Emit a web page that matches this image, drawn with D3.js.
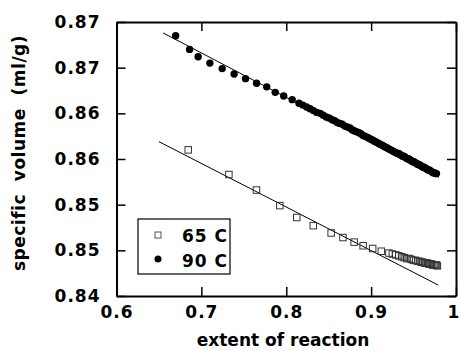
<!DOCTYPE html>
<html>
<head>
<meta charset="utf-8">
<script src="https://cdn.jsdelivr.net/npm/d3@7"></script>
<style>
  body { margin: 0; background: #fff; }
  .axis text { font-family: "DejaVu Sans", sans-serif; font-weight: bold; font-size: 17px; fill: #000; }
  .axis path, .axis line { stroke: #000; }
</style>
</head>
<body>
<div id="chart"></div>
<script>
// tick values and labels
var xTicks = [0.6, 0.7, 0.8, 0.9, 1.0];
var xTickLabels = ["0.6", "0.7", "0.8", "0.9", "1"];
var yTicks = [0.84, 0.845, 0.85, 0.855, 0.86, 0.865, 0.87];
var yTickLabels = ["0.84", "0.85", "0.85", "0.86", "0.86", "0.87", "0.87"];

// 65 C (open squares)
var extent65 = [0.6845, 0.7324, 0.7649, 0.7924, 0.8124, 0.8318, 0.8529, 0.8668, 0.880, 0.8906,
                0.9018, 0.912, 0.921, 0.925, 0.929, 0.9325, 0.936, 0.939, 0.942, 0.945,
                0.9475, 0.950, 0.9525, 0.955, 0.957, 0.959, 0.961, 0.963, 0.965, 0.9665,
                0.968, 0.9695, 0.971, 0.9725, 0.974, 0.9755, 0.977, 0.978];
var volume65 = [0.8560, 0.8533, 0.8516, 0.8499, 0.8486, 0.8477, 0.8469, 0.8464, 0.8459, 0.8455,
                0.8452, 0.8449, 0.8447, 0.8446, 0.8445, 0.8444, 0.8443, 0.8442, 0.8441, 0.8441,
                0.8440, 0.8439, 0.8439, 0.8438, 0.8438, 0.8437, 0.8437, 0.8436, 0.8436, 0.8436,
                0.8435, 0.8435, 0.8435, 0.8434, 0.8434, 0.8434, 0.8434, 0.8433];

// 90 C (filled circles)
var extent90 = [0.6697, 0.6861, 0.6962, 0.710, 0.7245, 0.7386, 0.752, 0.765, 0.777, 0.787,
                0.797, 0.807, 0.815, 0.8195, 0.824, 0.828, 0.832, 0.836, 0.840, 0.8435,
                0.847, 0.8505, 0.854, 0.857, 0.860, 0.863, 0.866, 0.869, 0.872, 0.875,
                0.8775, 0.880, 0.8825, 0.885, 0.8875, 0.890, 0.8925, 0.895, 0.897, 0.899,
                0.901, 0.903, 0.905, 0.907, 0.909, 0.911, 0.913, 0.915, 0.917, 0.919,
                0.921, 0.923, 0.925, 0.927, 0.929, 0.931, 0.9325, 0.934, 0.9355, 0.937,
                0.9385, 0.940, 0.9415, 0.943, 0.9445, 0.946, 0.9475, 0.949, 0.9505, 0.952,
                0.9535, 0.955, 0.9565, 0.958, 0.9595, 0.961, 0.9625, 0.964, 0.9655, 0.967,
                0.9685, 0.970, 0.9715, 0.973, 0.9745, 0.976, 0.977];
var volume90 = [0.8685, 0.8670, 0.8662, 0.8655, 0.8649, 0.8643, 0.8638, 0.8633, 0.8629, 0.8623,
                0.8619, 0.8615, 0.8611, 0.8609, 0.8607, 0.8605, 0.8603, 0.8601, 0.8600, 0.8598,
                0.8596, 0.8595, 0.8593, 0.8592, 0.8590, 0.8589, 0.8588, 0.8586, 0.8585, 0.8584,
                0.8582, 0.8581, 0.8580, 0.8579, 0.8578, 0.8576, 0.8575, 0.8574, 0.8573, 0.8572,
                0.8571, 0.8570, 0.8569, 0.8568, 0.8567, 0.8566, 0.8565, 0.8564, 0.8563, 0.8562,
                0.8561, 0.8560, 0.8559, 0.8558, 0.8557, 0.8556, 0.8556, 0.8555, 0.8554, 0.8553,
                0.8553, 0.8552, 0.8551, 0.8550, 0.8550, 0.8549, 0.8548, 0.8547, 0.8547, 0.8546,
                0.8545, 0.8544, 0.8544, 0.8543, 0.8542, 0.8541, 0.8541, 0.8540, 0.8539, 0.8538,
                0.8538, 0.8537, 0.8536, 0.8535, 0.8535, 0.8534, 0.8534];

// straight fit lines (end points)
var fit65X = [0.650, 0.979];
var fit65Y = [0.8569, 0.8412];
var fit90X = [0.655, 0.980];
var fit90Y = [0.8688, 0.8530];

var seriesNames = ["65 C", "90 C"];

var w = 461;
var h = 351;
var margin = { top: 22, right: 5, bottom: 55, left: 116.5 };

var xScale = d3.scaleLinear()
               .domain([0.6, 1.0])
               .range([margin.left, w - margin.right]);

var yScale = d3.scaleLinear()
               .domain([0.84, 0.87])
               .range([h - margin.bottom, margin.top]);

var svg = d3.select("#chart")
            .append("svg")
            .attr("width", w)
            .attr("height", h);

// axes, ticks pointing inward on all four sides
var xAxis = d3.axisBottom(xScale)
              .tickValues(xTicks)
              .tickFormat(function(d, i) { return xTickLabels[i]; })
              .tickSizeInner(-9)
              .tickSizeOuter(0)
              .tickPadding(10);

var yAxis = d3.axisLeft(yScale)
              .tickValues(yTicks)
              .tickFormat(function(d, i) { return yTickLabels[i]; })
              .tickSizeInner(-9)
              .tickSizeOuter(0)
              .tickPadding(16);

var topAxis = d3.axisTop(xScale).tickValues(xTicks).tickFormat("").tickSizeInner(-9).tickSizeOuter(0);
var rightAxis = d3.axisRight(yScale).tickValues(yTicks).tickFormat("").tickSizeInner(-9).tickSizeOuter(0);

var gx = svg.append("g")
   .attr("class", "axis")
   .attr("transform", "translate(0," + (h - margin.bottom) + ")")
   .call(xAxis);

svg.append("g")
   .attr("class", "axis")
   .attr("transform", "translate(" + margin.left + ",0)")
   .call(yAxis);

svg.append("g")
   .attr("class", "axis")
   .attr("transform", "translate(0," + margin.top + ")")
   .call(topAxis);

svg.append("g")
   .attr("class", "axis")
   .attr("transform", "translate(" + (w - margin.right) + ",0)")
   .call(rightAxis);

svg.selectAll(".axis path").attr("stroke-width", 2);
svg.selectAll(".axis line").attr("stroke-width", 1.5);
svg.selectAll(".axis text").attr("letter-spacing", "1px");
// keep the "1" inside the picture
gx.selectAll(".tick text").filter(function(d) { return d === 1; })
  .attr("letter-spacing", null)
  .attr("dx", -3);

// fit lines
var line = d3.line()
             .x(function(d) { return xScale(d[0]); })
             .y(function(d) { return yScale(d[1]); });

svg.append("path")
   .datum(d3.zip(fit65X, fit65Y))
   .attr("d", line)
   .attr("fill", "none")
   .attr("stroke", "#000")
   .attr("stroke-width", 1);

svg.append("path")
   .datum(d3.zip(fit90X, fit90Y))
   .attr("d", line)
   .attr("fill", "none")
   .attr("stroke", "#000")
   .attr("stroke-width", 1);

// 65 C squares
var sq = 6.5;
svg.selectAll("rect.s65")
   .data(d3.zip(extent65, volume65))
   .enter()
   .append("rect")
   .attr("class", "s65")
   .attr("x", function(d) { return xScale(d[0]) - sq / 2; })
   .attr("y", function(d) { return yScale(d[1]) - sq / 2; })
   .attr("width", sq)
   .attr("height", sq)
   .attr("fill", "none")
   .attr("stroke", "#333")
   .attr("stroke-width", 1);

// 90 C circles
svg.selectAll("circle.s90")
   .data(d3.zip(extent90, volume90))
   .enter()
   .append("circle")
   .attr("class", "s90")
   .attr("cx", function(d) { return xScale(d[0]); })
   .attr("cy", function(d) { return yScale(d[1]); })
   .attr("r", 3.7)
   .attr("fill", "#000");

// axis titles
svg.append("text")
   .attr("x", 283)
   .attr("y", 346)
   .attr("text-anchor", "middle")
   .attr("font-family", "DejaVu Sans, sans-serif")
   .attr("font-weight", "bold")
   .attr("font-size", 17)
   .text("extent of reaction");

svg.append("text")
   .attr("transform", "translate(25,153) rotate(-90)")
   .attr("text-anchor", "middle")
   .attr("font-family", "DejaVu Sans, sans-serif")
   .attr("font-weight", "bold")
   .attr("font-size", 17)
   .attr("letter-spacing", "0.5px")
   .style("white-space", "pre")
   .text("specific  volume  (ml/g)");

// legend
var legend = svg.append("g").attr("transform", "translate(138,219)");

legend.append("rect")
      .attr("width", 92)
      .attr("height", 55)
      .attr("fill", "#fff")
      .attr("stroke", "#000")
      .attr("stroke-width", 1.2);

legend.append("rect")
      .attr("x", 20 - 3)
      .attr("y", 16 - 3)
      .attr("width", 6)
      .attr("height", 6)
      .attr("fill", "none")
      .attr("stroke", "#555")
      .attr("stroke-width", 1);

legend.append("circle")
      .attr("cx", 20)
      .attr("cy", 40)
      .attr("r", 3.5)
      .attr("fill", "#000");

legend.selectAll("text")
      .data(seriesNames)
      .enter()
      .append("text")
      .attr("x", 44)
      .attr("y", function(d, i) { return 23 + i * 25; })
      .attr("font-family", "DejaVu Sans, sans-serif")
      .attr("font-weight", "bold")
      .attr("font-size", 17)
      .attr("letter-spacing", "1px")
      .text(function(d) { return d; });
</script>
</body>
</html>
